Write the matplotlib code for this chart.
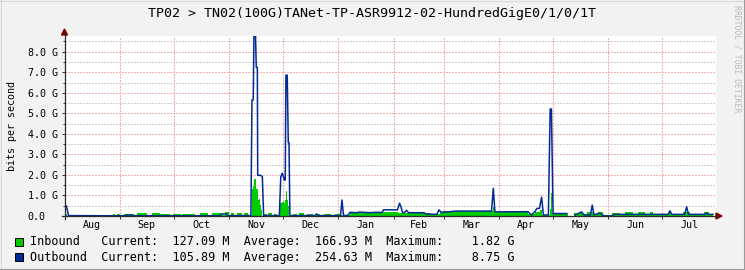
import numpy as np
import matplotlib.pyplot as plt
from matplotlib.lines import Line2D
from matplotlib.patches import Rectangle, Polygon

plt.rcParams['font.family'] = ['DejaVu Sans Mono']

nan = np.nan

# axe des x : jours depuis le 1er aout
month_starts = [0, 31, 61, 92, 122, 153, 184, 212, 243, 273, 304, 334]
month_labels = ['Aug', 'Sep', 'Oct', 'Nov', 'Dec', 'Jan', 'Feb', 'Mar', 'Apr', 'May', 'Jun', 'Jul']
year_end = 365

# Inbound (aire verte, en marches) - valeurs en G
in_days = [0, 1.6, 4.8, 8.7, 15.9, 17.6, 19.3, 24.9, 27.1, 28.2, 29.3, 31.0, 33.3, 38.9,
           40.5, 46.1, 48.9, 53.4, 59.0, 60.6, 65.1, 65.7, 73.0, 75.7, 80.2, 82.4, 88.0,
           89.7, 92.0, 93.0, 95.0, 96.5, 99.0, 100.5, 102.5,
           104.6, 105.0, 105.6, 106.2, 106.8, 107.3, 107.9, 108.4, 108.9, 109.3, 109.7, 110.1, 110.6,
           111.0, 113.0, 114.0, 116.0, 117.0, 119.0,
           120.4, 121.5, 122.5, 123.5, 124.1, 124.6, 125.1, 125.7,
           127.5, 130.0, 131.0, 134.0, 135.5, 139.0, 140.0, 143.0, 145.0, 149.0, 151.0, 154.0,
           159.5, 178.0, 186.5, 204.3, 209.9, 211.6, 239.4, 240.2, 259.0, 263.0, 266.0, 267.0,
           271.2, 271.9, 272.6, 281.6, 281.7,
           285.0, 288.2, 290.0, 291.9, 295.6, 298.4, 301.2, 305.9, 310.5, 313.3, 318.0, 320.8,
           324.5, 327.3, 329.1, 334.7, 338.0, 339.0, 345.9, 349.6, 357.7, 360.5, 362.5]
in_vals = [0.10, 0.01, 0.05, 0.01, 0.06, 0.01, 0.05, 0.01, 0.11, 0.02, 0.11, 0.02, 0.11, 0.03,
           0.16, 0.03, 0.16, 0.09, 0.03, 0.11, 0.03, 0.12, 0.03, 0.16, 0.03, 0.14, 0.03,
           0.21, 0.04, 0.15, 0.05, 0.16, 0.05, 0.15, 0.05,
           0.60, 1.30, 1.45, 1.80, 1.58, 1.33, 1.10, 0.77, 0.85, 0.53, 0.60, 0.30, 0.02,
           0.10, 0.03, 0.13, 0.05, 0.10, 0.03,
           0.62, 0.68, 0.62, 0.80, 1.22, 0.78, 0.50, 0.02,
           0.12, 0.05, 0.13, 0.06, 0.12, 0.05, 0.12, 0.06, 0.10, 0.05, 0.10, 0.04,
           0.13, 0.20, 0.14, 0.08, 0.14, 0.22, 0.45, 0.18, 0.10, 0.18, 0.30, 0.05,
           0.35, 1.10, 0.16, 0.16, nan,
           0.14, 0.21, 0.10, 0.18, 0.10, 0.21, 0.06, 0.14, 0.10, 0.21, 0.10, 0.18,
           0.10, 0.18, 0.11, 0.08, 0.22, 0.10, 0.19, 0.10, 0.18, 0.10, 0.10]

# Outbound (ligne bleue) - valeurs en G
out_days = [0, 1.1, 2.2, 25.4, 33.8, 34.9, 37.7, 38.8, 86.9, 88.0, 90.3, 91.4,
            104.2, 104.8, 105.5, 105.9, 106.8, 107.2, 107.8, 108.0, 109.7, 110.6, 111.3,
            120.1, 120.9, 121.7, 122.4, 122.9, 123.4, 123.8, 124.5, 125.1, 125.5, 126.0,
            140.0, 141.0, 142.0, 154.3, 155.1, 156.0,
            158.5, 159.6, 163.0, 165.2, 170.8, 174.1, 177.5, 178.3, 186.1, 187.3, 188.1,
            188.9, 189.8, 191.2, 192.3, 201.0, 202.1, 208.2, 209.3, 210.5, 214.4, 218.8,
            238.7, 239.7, 240.6, 259.1, 261.1, 263.0, 264.1, 265.5, 266.7, 267.7,
            270.5, 271.5, 272.2, 273.1, 280.6, 281.0,
            285.4, 289.1, 290.4, 294.0, 295.0, 296.0, 299.3, 300.4, 302.1, 306.0, 307.2,
            321.7, 337.4, 338.4, 339.5, 346.7, 347.8, 348.8, 358.0, 359.0, 360.0, 362.5]
out_vals = [0.49, 0.49, 0.02, 0.01, 0.01, 0.05, 0.05, 0.01, 0.01, 0.10, 0.10, 0.02,
            0.02, 5.65, 5.65, 8.75, 8.75, 7.24, 7.24, 1.98, 1.98, 1.92, 0.02,
            0.02, 1.91, 2.08, 1.91, 1.75, 1.75, 6.86, 6.86, 3.57, 3.57, 0.02,
            0.02, 0.10, 0.02, 0.02, 0.78, 0.02,
            0.03, 0.18, 0.16, 0.19, 0.16, 0.18, 0.17, 0.30, 0.30, 0.62, 0.45,
            0.18, 0.15, 0.28, 0.16, 0.16, 0.10, 0.08, 0.30, 0.18, 0.20, 0.24,
            0.24, 1.35, 0.20, 0.21, 0.05, 0.22, 0.37, 0.37, 0.92, 0.05,
            0.05, 5.21, 5.21, 0.12, 0.12, nan,
            0.05, 0.20, 0.05, 0.05, 0.53, 0.06, 0.14, 0.06, 0.00, 0.00, 0.08,
            0.08, 0.08, 0.25, 0.08, 0.08, 0.45, 0.08, 0.08, 0.15, 0.08, 0.08]

title = "TP02 > TN02(100G)TANet-TP-ASR9912-02-HundredGigE0/1/0/1T"
legend_rows = [
    "Inbound   Current:  127.09 M  Average:  166.93 M  Maximum:    1.82 G",
    "Outbound  Current:  105.89 M  Average:  254.63 M  Maximum:    8.75 G",
]
green = '#00CC00'
blue = '#002A97'

W, H = 745, 270
fig = plt.figure(figsize=(W / 100, H / 100), dpi=100, facecolor='#F2F2F2')
ax = fig.add_axes([64.5 / W, 54 / H, 651.5 / W, 180.3 / H])
ax.set_facecolor('white')

ax.fill_between(in_days, in_vals, step='post', color=green, lw=0, zorder=3)
ax.plot(out_days, out_vals, color=blue, lw=1.1, zorder=4)

ax.set_xlim(0, 364.2)
ax.set_ylim(0, 8.78)

# graduations
mids = [(a + b) / 2 for a, b in zip(month_starts, month_starts[1:] + [year_end])]
ax.set_xticks(month_starts)
ax.set_xticklabels([])
ax.set_xticks(mids, minor=True)
ax.set_xticklabels(month_labels, minor=True)
ax.tick_params(axis='x', which='major', length=2.2, width=0.7, color='#333333')
ax.tick_params(axis='x', which='minor', length=0, pad=3, labelsize=7.2)

ax.set_yticks(range(9))
ax.set_yticklabels(['0.0'] + ['%d.0 G' % v for v in range(1, 9)])
ax.set_yticks(np.arange(0.5, 8.6, 1.0), minor=True)
ax.tick_params(axis='y', which='major', length=2.2, width=0.7, color='#333333', pad=24.3, labelsize=7.2)
ax.tick_params(axis='y', which='minor', length=1.4, width=0.7, color='#333333')
for t in ax.get_yticklabels():
    t.set_horizontalalignment('left')

dots = (0, (1.5, 1.5))
ax.xaxis.grid(True, which='major', color='#F6AFAF', ls=dots, lw=0.72, antialiased=False)
ax.yaxis.grid(True, which='major', color='#F6AFAF', ls=dots, lw=0.72, antialiased=False)
ax.yaxis.grid(True, which='minor', color='#CFCFCF', ls=dots, lw=0.72, antialiased=False)
ax.set_axisbelow(True)
for s in ax.spines.values():
    s.set_visible(False)

# axes + fleches
def px(x, y):
    return (x / W, 1 - y / H)

axis_col = '#2A2A2A'
fig.add_artist(Line2D([62 / W, 717 / W], [1 - 216 / H] * 2, color=axis_col, lw=0.9))
fig.add_artist(Line2D([64.5 / W] * 2, [1 - 219 / H, 1 - 33 / H], color=axis_col, lw=0.9))
fig.add_artist(Polygon([px(716, 213), px(722, 216), px(716, 219)], closed=True,
                       color='#7F0000', transform=fig.transFigure))
fig.add_artist(Polygon([px(61.5, 35), px(64.5, 29), px(67.5, 35)], closed=True,
                       color='#7F0000', transform=fig.transFigure))

# cadre
fig.add_artist(Line2D([0, 1], [1 - 0.5 / H] * 2, color='#D8D8D8', lw=0.8))
fig.add_artist(Line2D([0.5 / W] * 2, [0, 1], color='#D8D8D8', lw=0.8))
fig.add_artist(Line2D([0, 1], [1.5 / H] * 2, color='#9A9A9A', lw=0.8))
fig.add_artist(Line2D([1 - 1.5 / W] * 2, [0, 1], color='#9A9A9A', lw=0.8))

# textes
fig.text(372.5 / W, 1 - 14 / H, title, ha='center', va='center', fontsize=9.6)
fig.text(12 / W, 1 - 126 / H, 'bits per second', rotation=90, ha='center', va='center', fontsize=7.2)
fig.text(737 / W, 1 - 5 / H, 'RRDTOOL / TOBI OETIKER', rotation=270, ha='center', va='top',
         fontsize=5.9, color='#BBBBBB')

for i, (row, col) in enumerate(zip(legend_rows, [green, blue])):
    yc = 242 + 15 * i
    fig.add_artist(Rectangle(px(15, yc + 4), 8 / W, 8 / H, transform=fig.transFigure,
                             facecolor=col, edgecolor='black', lw=0.7))
    fig.text(30 / W, 1 - yc / H, row, ha='left', va='center', fontsize=8.5)

fig.savefig('out.png', dpi=100, facecolor=fig.get_facecolor())
